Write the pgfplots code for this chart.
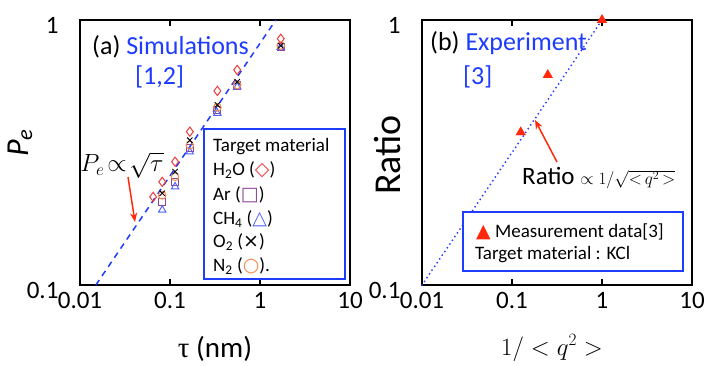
\documentclass[border=0pt]{standalone}
\usepackage{fontspec}
\setmainfont{Carlito}
\newfontfamily\tnr{Liberation Serif}
\newfontfamily\dv{DejaVu Sans}
\usepackage{pgfplots}
\pgfplotsset{compat=1.18}
\usetikzlibrary{arrows.meta}
\definecolor{myblue}{RGB}{30,60,255}
\definecolor{myred}{RGB}{255,40,10}
\definecolor{h2o}{RGB}{240,60,60}
\definecolor{ar}{RGB}{140,70,150}
\definecolor{ch4}{RGB}{80,100,255}
\definecolor{n2}{RGB}{245,140,80}
\pgfplotsset{myaxis/.style={
  scale only axis, width=270pt, height=265pt,
  xmin=0.01, xmax=10, ymin=0.1, ymax=1,
  xtick={0.01,0.1,1,10}, xticklabels={0.01,0.1,1,10},
  ytick={0.1,1}, yticklabels={0.1,1},
  xminorticks=false, yminorticks=false,
  tick align=inside, major tick length=6pt,
  axis line style={line width=2.5pt},
  tick style={line width=1.5pt, black},
  ytick style={draw=none},
  tick label style={font=\fontsize{25}{25}\selectfont},
  /pgf/number format/assume math mode=true,
  xticklabel style={yshift=-4pt},
  yticklabel style={xshift=-18pt, yshift=-5pt},
  clip=false,
}}
\begin{document}
\begin{tikzpicture}[x=1pt,y=1pt]
\path[use as bounding box] (0,0) rectangle (709,365);
% ---------- panel (a)
\begin{loglogaxis}[myaxis, at={(80pt,80pt)}, anchor=south west]
\addplot[myblue, line width=1.5pt, dash pattern=on 6pt off 5pt] coordinates {(0.015,0.1) (1.5,1)};
\addplot[only marks, mark=square, mark size=3.6pt, ar, line width=1pt] coordinates {
(0.082,0.206) (0.114,0.245) (0.166,0.329) (0.336,0.458) (0.558,0.566) (1.70,0.79)};
\addplot[only marks, mark=triangle, mark size=4.2pt, ch4, line width=1pt] coordinates {
(0.082,0.192) (0.114,0.235) (0.166,0.318) (0.336,0.445) (0.558,0.56) (1.70,0.79)};
\addplot[only marks, mark=o, mark size=3.8pt, n2, line width=1pt] coordinates {
(0.082,0.218) (0.114,0.256) (0.166,0.337) (0.336,0.468) (0.558,0.569) (1.70,0.80)};
\addplot[only marks, mark=x, mark size=3.8pt, black, line width=0.9pt] coordinates {
(0.082,0.222) (0.114,0.268) (0.166,0.352) (0.336,0.478) (0.558,0.585) (1.70,0.80)};
\addplot[only marks, mark=diamond, mark size=4.6pt, h2o, line width=1pt] coordinates {
(0.065,0.215) (0.082,0.245) (0.114,0.292) (0.166,0.379) (0.336,0.54) (0.558,0.648) (1.70,0.85)};
\end{loglogaxis}
% ---------- panel (b)
\begin{loglogaxis}[myaxis, at={(422pt,80pt)}, anchor=south west]
\addplot[myblue, line width=2pt, dash pattern=on 0pt off 4.5pt, line cap=round] coordinates {(0.01,0.1) (1,1)};
\addplot[only marks, mark=triangle*, mark size=5.5pt, myred] coordinates {(0.125,0.377) (0.25,0.62) (1,1)};
\end{loglogaxis}
% ---------- annotations (a)
\node[anchor=west, inner sep=0pt, font=\fontsize{26}{30}\selectfont] at (92,318) {(a) \textcolor{myblue}{Simulations}};
\node[anchor=west, inner sep=0pt, font=\fontsize{26}{30}\selectfont, text=myblue] at (135,288) {[1,2]};
\node[inner sep=0pt, font=\fontsize{23}{26}\selectfont] at (122,200) {$P_e\!\propto\!\sqrt{\tau}$};
\draw[myred, line width=1.5pt, -{Stealth[length=9pt,width=7pt]}] (128,188) -- (135,143);
\draw[myblue, line width=2pt, fill=white] (204,236) rectangle (345,86);
\begin{scope}[every node/.style={anchor=west, inner sep=0pt, font=\fontsize{19}{22}\selectfont}]
\node at (213,218) {Target material};
\node at (213,195) {H\textsubscript{2}O ({\dv\color{h2o}◇})};
\node at (213,170) {Ar ({\dv\color{ar}□})};
\node at (213,146) {CH\textsubscript{4} ({\dv\color{ch4}△})};
\node at (213,123) {O\textsubscript{2} ({\dv ×})};
\node at (213,99) {N\textsubscript{2} ({\dv\color{n2}○}).};
\end{scope}
\node[rotate=90, inner sep=0pt, font=\fontsize{32}{36}\selectfont\itshape] at (20,222) {P\textsubscript{e}};
\node[anchor=base, inner sep=0pt, font=\fontsize{29}{34}\selectfont] at (215,8) {{\tnr τ} (nm)};
% ---------- annotations (b)
\node[anchor=west, inner sep=0pt, font=\fontsize{26}{30}\selectfont] at (430,322) {(b) \textcolor{myblue}{Experiment}};
\node[anchor=west, inner sep=0pt, font=\fontsize{26}{30}\selectfont, text=myblue] at (463,288) {[3]};
\draw[myred, line width=1.5pt, -{Stealth[length=9pt,width=7pt]}] (557,203) -- (535,245);
\node[anchor=west, inner sep=0pt, font=\fontsize{25}{28}\selectfont] at (522,187) {Ratio {\fontsize{18}{20}\selectfont$\propto 1/\sqrt{{<}\,q^2\,{>}}$}};
\draw[myblue, line width=2pt, fill=white] (463,153) rectangle (683,94);
\node[anchor=west, inner sep=0pt, font=\fontsize{19}{22}\selectfont] at (476,133) {{\dv\color{myred}▲} Measurement data[3]};
\node[anchor=west, inner sep=0pt, font=\fontsize{19}{22}\selectfont] at (475,110) {Target material : KCl};
\node[rotate=90, inner sep=0pt, font=\fontsize{38}{42}\selectfont] at (387,210) {Ratio};
\node[anchor=base, inner sep=0pt, font=\fontsize{24}{28}\selectfont] at (552,10) {$1/<q^2>$};
\end{tikzpicture}
\end{document}
